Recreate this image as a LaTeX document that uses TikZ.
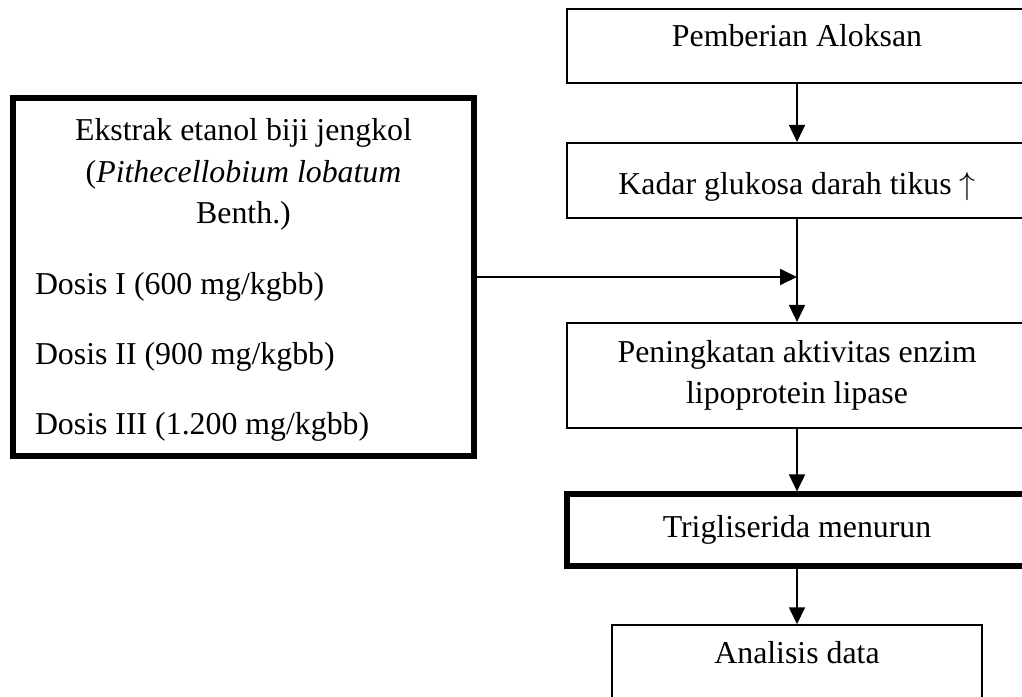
\documentclass[tikz,border=0pt]{standalone}
\usepackage{fontspec}
\setmainfont{Liberation Serif}
\usetikzlibrary{shapes, arrows.meta}

\begin{document}
\begin{tikzpicture}[x=0.377pt, y=-0.377pt, auto, >={Triangle[length=6.4pt,width=6pt]}]
    \tikzstyle{block} = [rectangle, draw, line width=0.75pt, align=center, minimum width=173.4pt, minimum height=27.9pt, font=\fontsize{12}{15.5}\selectfont]
    \tikzstyle{boldblock} = [block, line width=2.26pt]
    \tikzstyle{line} = [draw, ->, line width=0.75pt]

    \useasboundingbox (0,0) rectangle (1022,696);
    \clip (0,0) rectangle (1022,696);

    % Nodes
    \node [block, text depth=7.9pt] (aloksan) at (797,46) {Pemberian Aloksan};
    \node [block, below of=aloksan, node distance=50.7pt, minimum height=28.3pt, text height=13.5pt] (glukosa) {Kadar glukosa darah tikus $\uparrow$};
    \node [block, below of=glukosa, node distance=73.5pt, minimum height=39.6pt] (lipase) {Peningkatan aktivitas enzim\\lipoprotein lipase};
    \node [boldblock, below of=lipase, node distance=58.4pt, minimum width=173.8pt, minimum height=27.1pt] (trigliserida) {Trigliserida menurun};
    \node [block, below of=trigliserida, node distance=49.8pt, line width=0.5pt, minimum width=139.5pt, minimum height=28.3pt, text depth=7.9pt] (analisis) {Analisis data};

    % Ekstrak dan dosis
    \node [boldblock, minimum width=173.8pt, minimum height=135.2pt] (ekstrak) at (243.5,277) {%
        \rule{0pt}{12.7pt}Ekstrak etanol biji jengkol\\(\textit{Pithecellobium lobatum}\\Benth.)\\[11.3pt]
        \makebox[157.2pt][l]{\begin{tabular}[t]{@{}l@{}}
            Dosis I (600 mg/kgbb)\\[10.9pt]
            Dosis II (900 mg/kgbb)\\[10.9pt]
            Dosis III (1.200 mg/kgbb)
        \end{tabular}}};
    \coordinate (masuk) at (ekstrak.east -| glukosa.south);

    % Paths
    \path [line] (aloksan) -- (glukosa);
    \path [line] (glukosa) -- (lipase);
    \path [line] (ekstrak) -- (masuk);
    \path [line] (lipase) -- (trigliserida);
    \path [line] (trigliserida) -- (analisis);

\end{tikzpicture}
\end{document}
